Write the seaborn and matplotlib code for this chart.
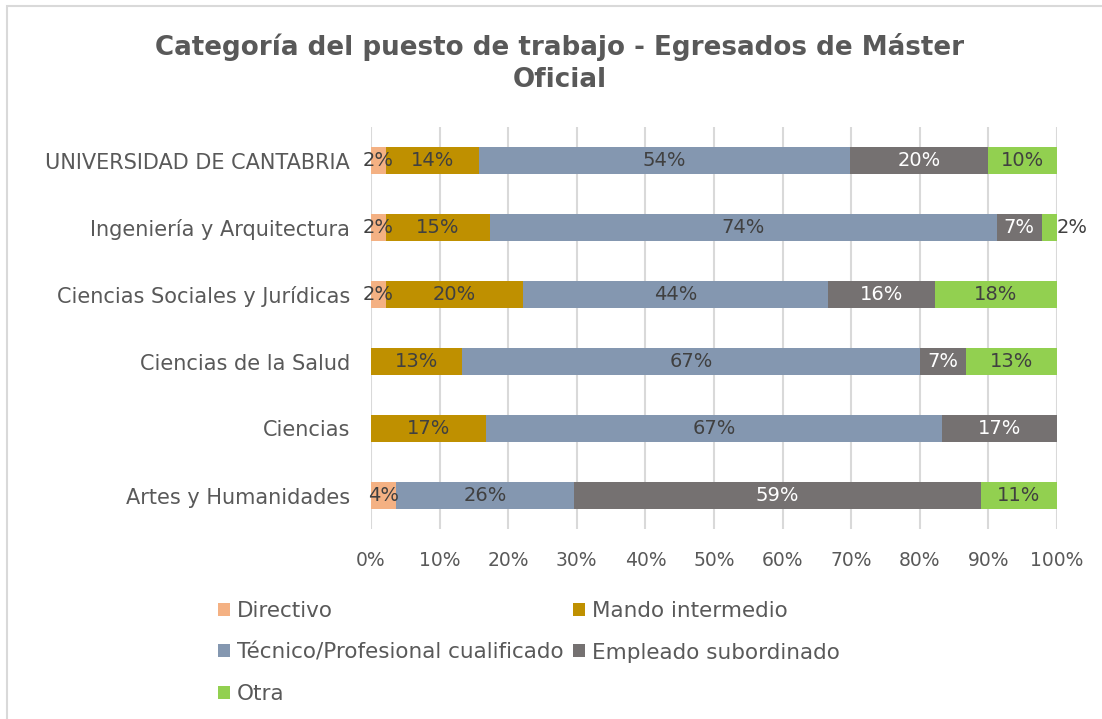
import matplotlib
matplotlib.use("Agg")
import matplotlib.pyplot as plt
from matplotlib.patches import Rectangle, Patch
import numpy as np
import pandas as pd
import seaborn as sns

# Job category of official master's graduates, by branch of knowledge (% of row)
categories = [
    "UNIVERSIDAD DE CANTABRIA",
    "Ingeniería y Arquitectura",
    "Ciencias Sociales y Jurídicas",
    "Ciencias de la Salud",
    "Ciencias",
    "Artes y Humanidades",
]
series = [
    "Directivo",
    "Mando intermedio",
    "Técnico/Profesional cualificado",
    "Empleado subordinado",
    "Otra",
]
directivo = [2.2, 2.2, 2.2, 0.0, 0.0, 3.7]
mando_intermedio = [13.5, 15.1, 20.0, 13.3, 16.7, 0.0]
tecnico = [54.1, 73.9, 44.4, 66.7, 66.6, 25.9]
empleado = [20.1, 6.6, 15.6, 6.7, 16.7, 59.3]
otra = [10.1, 2.2, 17.8, 13.3, 0.0, 11.1]
tick_values = [0, 10, 20, 30, 40, 50, 60, 70, 80, 90, 100]

colors = ["#F4B183", "#BF9000", "#8497B0", "#757171", "#92D050"]
label_colors = ["#404040", "#404040", "#404040", "#FFFFFF", "#404040"]

sns.set_theme(style="white")
plt.rcParams["font.family"] = ["DejaVu Sans"]

values = np.array([directivo, mando_intermedio, tecnico, empleado, otra])
values = values / values.sum(axis=0) * 100.0
cum = np.cumsum(values, axis=0)

fig = plt.figure(figsize=(11.02, 7.19), dpi=100)
ax = fig.add_axes([371 / 1102, 1 - 529 / 719, 686 / 1102, 402 / 719])

# Stacked bars: draw cumulative totals from the full row down to the first series
for i in range(len(series) - 1, -1, -1):
    df = pd.DataFrame({"cat": categories, "cum": cum[i]})
    sns.barplot(data=df, x="cum", y="cat", order=categories, orient="h",
                color=colors[i], width=0.4, saturation=1, linewidth=0,
                ax=ax, zorder=3)

# Segment value labels
for i in range(len(series)):
    for j in range(len(categories)):
        v = values[i, j]
        if v <= 0:
            continue
        left = cum[i, j] - v
        txt = f"{v:.0f}%"
        if i == len(series) - 1 and v < 3:
            ax.text(cum[i, j], j, txt, ha="left", va="center",
                    fontsize=14, color="#404040", zorder=5)
        else:
            ax.text(left + v / 2, j, txt, ha="center", va="center",
                    fontsize=14, color=label_colors[i], zorder=5)

ax.set_xlim(0, 100)
ax.set_ylim(5.5, -0.5)
ax.set_xticks(tick_values)
ax.set_xticklabels([f"{t}%" for t in tick_values], fontsize=13.5, color="#595959")
ax.tick_params(axis="x", length=0, pad=16)
ax.tick_params(axis="y", length=0, pad=15, labelsize=15, labelcolor="#595959")
ax.set_xlabel("")
ax.set_ylabel("")
ax.grid(axis="x", color="#D9D9D9", linewidth=1.5, zorder=0)
ax.set_axisbelow(True)
for s in ax.spines.values():
    s.set_visible(False)

fig.suptitle("Categoría del puesto de trabajo - Egresados de Máster\nOficial",
             x=0.508, y=1 - 33 / 719, va="top", fontsize=18.8, fontweight="bold",
             color="#595959", linespacing=1.3)

# Legend laid out in two columns, row by row
order = [0, 2, 4, 1, 3]
handles = [Patch(facecolor=colors[k], edgecolor="none") for k in order]
labels = [series[k] for k in order]
fig.legend(handles, labels, loc="upper left",
           bbox_to_anchor=(218 / 1102, 1 - 601 / 719), ncol=2, frameon=False,
           fontsize=15.5, handlelength=0.55, handleheight=0.55, handletextpad=0.33,
           columnspacing=0.45, labelspacing=1.0, labelcolor="#595959",
           borderaxespad=0, borderpad=0)

# Chart frame
fig.patches.append(Rectangle((7 / 1102, -0.05), 1.2, 1.05 - 6 / 719,
                             transform=fig.transFigure, fill=False,
                             edgecolor="#D9D9D9", linewidth=1.5))

fig.savefig("out.png", dpi=100, facecolor="white")
